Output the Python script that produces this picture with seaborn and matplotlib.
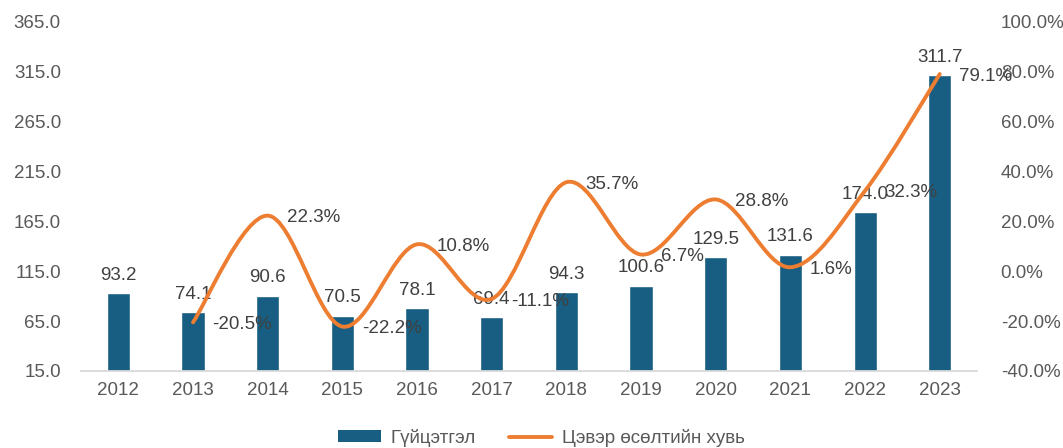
import numpy as np
import pandas as pd
import matplotlib
matplotlib.use("Agg")
import matplotlib.pyplot as plt
import seaborn as sns
from matplotlib.path import Path
from matplotlib.patches import PathPatch
from matplotlib.lines import Line2D
from matplotlib.patches import Patch

years = ["2012", "2013", "2014", "2015", "2016", "2017", "2018", "2019", "2020", "2021", "2022", "2023"]
performance = [93.2, 74.1, 90.6, 70.5, 78.1, 69.4, 94.3, 100.6, 129.5, 131.6, 174.0, 311.7]
growth_years = years[1:]
growth_pct = [-20.5, 22.3, -22.2, 10.8, -11.1, 35.7, 6.7, 28.8, 1.6, 32.3, 79.1]

bar_label = "Гүйцэтгэл"
line_label = "Цэвэр өсөлтийн хувь"

BAR_C = "#175E82"
LINE_C = "#ED7D31"
TICK_C = "#595959"
LAB_C = "#404040"

sns.set_theme(style="white")
plt.rcParams["font.family"] = ["Liberation Sans", "DejaVu Sans"]
FS = 13.5

fig = plt.figure(figsize=(10.63, 4.48), dpi=100)
ax = fig.add_axes([0.0762, 0.172, 0.843, 0.779])

df = pd.DataFrame({"year": years, "value": performance})
sns.barplot(data=df, x="year", y="value", color=BAR_C, width=0.31, ax=ax, saturation=1)

ax.set_ylim(15, 365)
ax.set_yticks(np.arange(15, 366, 50))
ax.set_yticklabels([f"{v:.1f}" for v in np.arange(15, 366, 50)])
ax.set_xlim(-0.5, len(years) - 0.5)
ax.set_xlabel("")
ax.set_ylabel("")
for s in ["top", "right", "left"]:
    ax.spines[s].set_visible(False)
ax.spines["bottom"].set_color("#D9D9D9")
ax.spines["bottom"].set_linewidth(1.3)
ax.tick_params(axis="both", length=0, labelsize=FS, labelcolor=TICK_C)
ax.tick_params(axis="y", pad=14.5)
ax.tick_params(axis="x", pad=8)

for i, v in enumerate(performance):
    ax.annotate(f"{v:.1f}", (i, v), xytext=(0, 9.5), textcoords="offset points",
                ha="center", va="baseline", fontsize=FS, color=LAB_C)

ax2 = ax.twinx()
ax2.set_ylim(-40, 100)
ax2.set_yticks(np.arange(-40, 101, 20))
ax2.set_yticklabels([f"{v:.1f}%" for v in np.arange(-40, 101, 20)])
for s in ["top", "right", "left", "bottom"]:
    ax2.spines[s].set_visible(False)
ax2.tick_params(axis="y", length=0, labelsize=FS, labelcolor=TICK_C, pad=17)
ax2.grid(False)
ax.grid(False)

# smoothed line (Bezier through data points, Excel-style)
xs = np.array([years.index(y) for y in growth_years], dtype=float)
ys = np.array(growth_pct, dtype=float)
pts = np.column_stack([xs, ys])
n = len(pts)
verts = [tuple(pts[0])]
codes = [Path.MOVETO]
for i in range(n - 1):
    p0 = pts[i - 1] if i > 0 else pts[i]
    p1 = pts[i]
    p2 = pts[i + 1]
    p3 = pts[i + 2] if i + 2 < n else pts[i + 1]
    c1 = p1 + (p2 - p0) / 6.0
    c2 = p2 - (p3 - p1) / 6.0
    verts += [tuple(c1), tuple(c2), tuple(p2)]
    codes += [Path.CURVE4] * 3
patch = PathPatch(Path(verts, codes), facecolor="none", edgecolor=LINE_C, lw=2.8,
                  capstyle="round", joinstyle="round")
ax2.add_patch(patch)

for x, y in zip(xs, ys):
    ax2.annotate(f"{y:.1f}%", (x, y), xytext=(14, -4.8), textcoords="offset points",
                 ha="left", va="baseline", fontsize=FS, color=LAB_C)

handles = [Patch(facecolor=BAR_C, edgecolor="none"),
           Line2D([0], [0], color=LINE_C, lw=2.8)]
fig.legend(handles, [bar_label, line_label], loc="lower center", ncol=2,
           bbox_to_anchor=(0.509, -0.035), frameon=False, fontsize=FS,
           labelcolor=TICK_C, handlelength=2.3, handleheight=0.6,
           columnspacing=1.8, handletextpad=0.5)

fig.savefig("out.png", dpi=100)
